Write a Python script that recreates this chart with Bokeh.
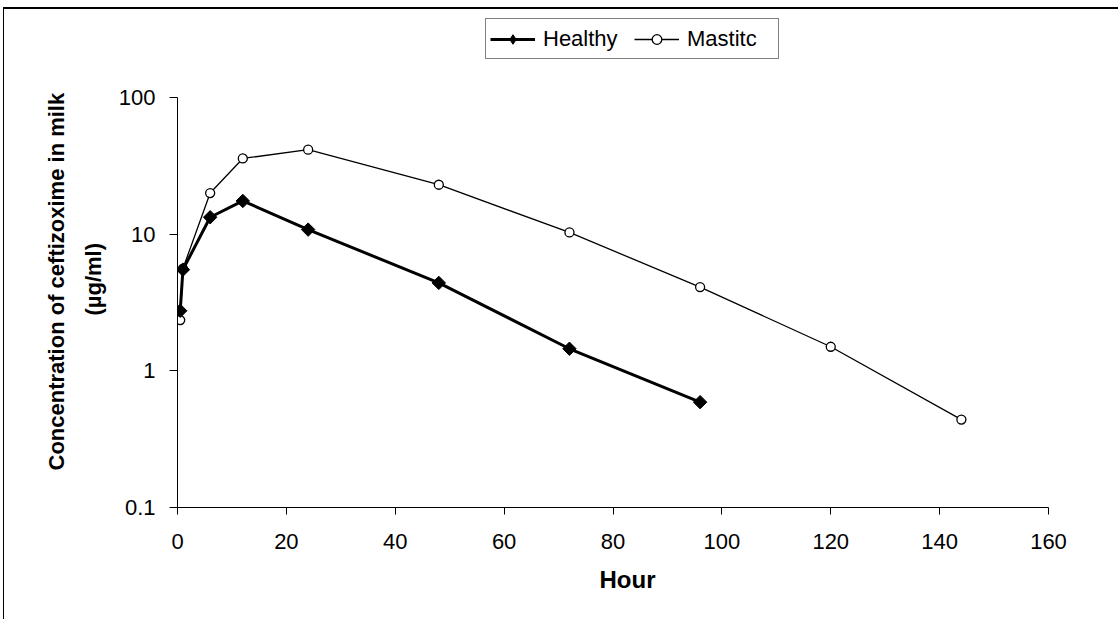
from bokeh.plotting import figure
from bokeh.models import (FixedTicker, CustomJSTickFormatter, Legend, LegendItem, Title, Range1d)
from bokeh.embed import file_html
from bokeh.resources import INLINE

hours_healthy = [0.5, 1, 6, 12, 24, 48, 72, 96]
conc_healthy = [2.75, 5.5, 13.3, 17.5, 10.8, 4.4, 1.45, 0.59]
hours_mastitic = [0.5, 1, 6, 12, 24, 48, 72, 96, 120, 144]
conc_mastitic = [2.35, 5.6, 20.0, 35.8, 41.5, 23.0, 10.3, 4.1, 1.5, 0.44]
x_ticks = [0, 20, 40, 60, 80, 100, 120, 140, 160]
y_ticks = [0.1, 1, 10, 100]
series_names = ["Healthy", "Mastitc"]
x_title = "Hour"
y_title_lines = ["Concentration of ceftizoxime in milk", "(\u00b5g/ml)"]

FONT = "Liberation Sans"

# layout: axis spans 410 px for 3 decades; frame extends 82 px above it to hold the legend
AXIS_PX, EXTRA_PX = 410, 82
y_top = y_ticks[-1] * 10 ** (EXTRA_PX / (AXIS_PX / 3))

p = figure(width=1115, height=612, y_axis_type="log",
           x_range=Range1d(0, 160), y_range=Range1d(y_ticks[0], y_top),
           output_backend="svg", toolbar_location=None,
           min_border_left=173, min_border_right=71,
           min_border_top=6, min_border_bottom=114)
p.styles = {"border-top": "2px solid black", "border-left": "1px solid black",
            "margin-top": "7px", "margin-left": "3px"}
p.grid.visible = False
p.outline_line_color = None

for ax in (p.xaxis[0], p.yaxis[0]):
    ax.axis_line_color = "black"
    ax.axis_line_width = 1
    ax.major_tick_line_color = "black"
    ax.major_tick_line_width = 1
    ax.minor_tick_line_color = None
    ax.major_tick_in = 0
    ax.major_label_text_font = FONT
    ax.major_label_text_font_size = "22px"
    ax.major_label_text_color = "black"

p.xaxis.ticker = FixedTicker(ticks=x_ticks)
p.xaxis.major_tick_out = 7
p.xaxis.major_label_standoff = 19

p.yaxis.ticker = FixedTicker(ticks=y_ticks, minor_ticks=[])
p.yaxis.bounds = (y_ticks[0], y_ticks[-1])
p.yaxis.formatter = CustomJSTickFormatter(code="return String(Number(tick.toPrecision(6)));")
p.yaxis.major_tick_out = 8
p.yaxis.major_label_standoff = 14

p.add_layout(Title(text=x_title, align="left", offset=422, standoff=25,
                   text_font=FONT, text_font_size="24px", text_font_style="bold",
                   text_color="black"), "below")

# y-axis title: two lines, nearest line first
p.add_layout(Title(text=y_title_lines[1], align="left", offset=192, standoff=19,
                   text_font=FONT, text_font_size="22px", text_font_style="bold",
                   text_color="black"), "left")
p.add_layout(Title(text=y_title_lines[0], align="left", offset=37, standoff=1,
                   text_font=FONT, text_font_size="22px", text_font_style="bold",
                   text_color="black"), "left")

r_m = p.line(hours_mastitic, conc_mastitic, line_color="black", line_width=1.3)
s_m = p.scatter(hours_mastitic, conc_mastitic, marker="circle", size=9,
                line_color="black", line_width=1.3, fill_color="white")
r_h = p.line(hours_healthy, conc_healthy, line_color="black", line_width=3)
s_h = p.scatter(hours_healthy, conc_healthy, marker="square", angle=0.7853982, size=9.5,
                line_color="black", fill_color="black")
# legend-only glyph (a single NaN point, draws nothing in the plot): legends draw markers unrotated
nan = float("nan")
s_h_leg = p.scatter(x=[nan], y=[nan], marker="diamond", size=14,
                    line_color="black", fill_color="black")

legend = Legend(items=[LegendItem(label=series_names[0], renderers=[r_h, s_h_leg]),
                       LegendItem(label=series_names[1], renderers=[r_m, s_m])],
                orientation="horizontal", location=(308, 448),
                glyph_width=45, glyph_height=24, label_height=31, label_width=87,
                label_standoff=8, spacing=4,
                padding=4, margin=0, border_line_color="black", border_line_width=1,
                label_text_font=FONT, label_text_font_size="22px", label_text_color="black",
                background_fill_color="white", background_fill_alpha=1)
p.add_layout(legend, "center")

open("out.html", "w").write(file_html(p, INLINE))
